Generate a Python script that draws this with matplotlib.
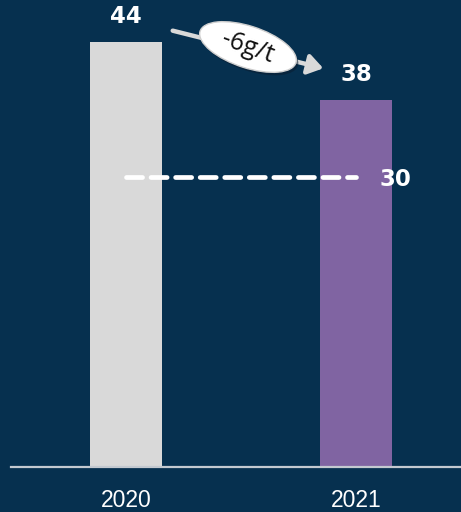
import matplotlib
matplotlib.use('Agg')
import matplotlib.pyplot as plt
from matplotlib.patches import Ellipse, FancyArrowPatch

years = ["2020", "2021"]
values = [44, 38]
target = 30
delta_label = "-6g/t"

BG = "#06304f"
bar_colors = ["#d9d9d9", "#8064a2"]

fig = plt.figure(figsize=(4.61, 5.12), dpi=100)
fig.patch.set_facecolor(BG)
ax = fig.add_axes([0, 45 / 512, 1, 1 - 45 / 512])
ax.set_facecolor(BG)

x = list(range(len(years)))
ax.bar(x, values, width=0.313, color=bar_colors, zorder=2)
ax.set_xlim(-0.548, 1.457)
ax.set_ylim(0, 48.3)
ax.axis("off")

# baseline
ax.plot([-0.5, 1.46], [0, 0], color="#c3c9d0", lw=1.6, clip_on=False, zorder=3)

# value labels above bars
for xi, v in zip(x, values):
    ax.annotate(str(v), (xi, v), xytext=(0, 10), textcoords="offset points",
                ha="center", va="bottom", color="white", fontsize=16.5,
                fontweight="bold", family="DejaVu Sans")

# year labels under the axis
for xi, y in zip(x, years):
    ax.annotate(y, (xi, 0), xytext=(0, -16), textcoords="offset points",
                ha="center", va="top", color="white", fontsize=16.5,
                family="Liberation Sans", annotation_clip=False)

# target line
ax.plot([0, 1], [target, target], color="white", lw=3.4,
        dashes=(3.4, 1.8), dash_capstyle="round", zorder=4)
ax.annotate(str(target), (1, target), xytext=(17, -1.5), textcoords="offset points",
            ha="left", va="center", color="white", fontsize=16.5,
            fontweight="bold", family="DejaVu Sans")

# change arrow with ellipse label, positioned in figure pixels
def px(xp, yp):
    return (xp / 461, 1 - yp / 512)

arrow = FancyArrowPatch(px(170, 30), px(326, 69), transform=fig.transFigure,
                        arrowstyle="-|>,head_length=6,head_width=4",
                        color="#d9d9d9", lw=3.2, mutation_scale=1.5, zorder=5)
fig.patches.append(arrow)

cx, cy = px(248, 47)
shadow = Ellipse((cx + 2 / 461, cy - 3 / 512), 100 / 461, 42 / 512, angle=-16,
                 transform=fig.transFigure, facecolor="#0b1f33", alpha=0.6,
                 edgecolor="none", zorder=6)
ell = Ellipse((cx, cy), 100 / 461, 42 / 512, angle=-16, transform=fig.transFigure,
              facecolor="white", edgecolor="#cfcfcf", lw=1, zorder=7)
fig.patches.append(shadow)
fig.patches.append(ell)
fig.text(cx, cy, delta_label, ha="center", va="center", rotation=-20,
         fontsize=18, family="Open Sans", color="#111111", zorder=8)

fig.savefig("out.png", dpi=100, facecolor=BG)
